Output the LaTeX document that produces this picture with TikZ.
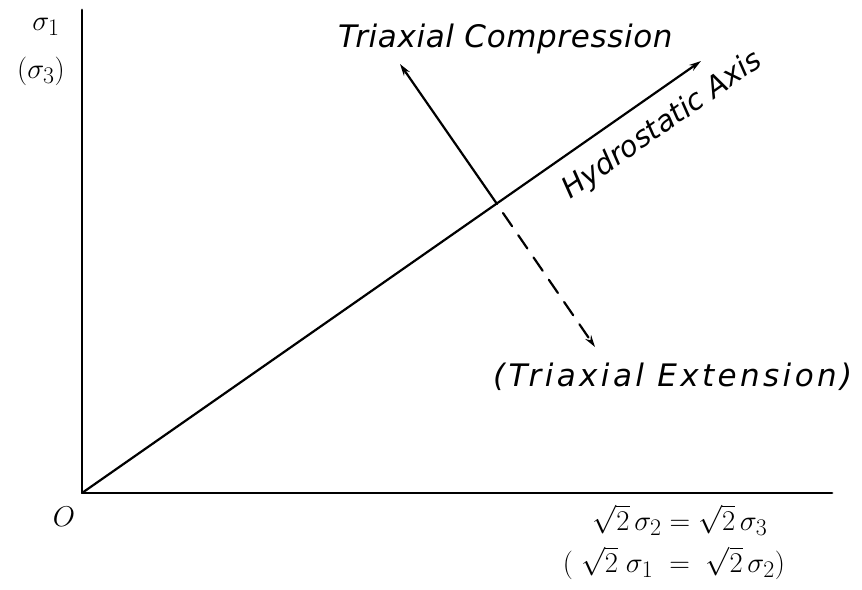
\documentclass[tikz,border=0pt]{standalone}
\usepackage{fontspec}
\setmainfont{DejaVu Sans}
\usetikzlibrary{arrows.meta}
\newcommand{\bigmath}[1]{\scalebox{1.15}{$#1$}}

\begin{document}
\begin{tikzpicture}
% Hydrostatic axis sketch, drawn in pixel units
\def\unitsz{1pt}
\providecommand{\axisLineWidth}{2.8pt}
\providecommand{\rayLineWidth}{2.2pt}
\providecommand{\sketchFont}{\fontsize{31}{36}\selectfont\itshape}
\providecommand{\mathFont}{\fontsize{24.88}{30}\selectfont}
\tikzset{
  sketchtip/.style={-{Stealth[length=12pt,width=7pt]}},
  sketchtext/.style={inner sep=0pt, font=\sketchFont},
  mathtext/.style={inner sep=0pt, font=\mathFont}
}
\begin{scope}[x=\unitsz, y=-\unitsz, line cap=round, line join=round]
  \useasboundingbox (0,0) rectangle (862,589);
  % Axes
  \coordinate (O) at (82,493);
  \coordinate (yTop) at (82,10);
  \coordinate (xEnd) at (832,493);
  \draw[line width=\axisLineWidth] (yTop) -- (O) -- (xEnd);
  % Hydrostatic axis and the two rays from it
  \coordinate (hEnd) at (701,61);
  \coordinate (cross) at (497,204);
  \coordinate (dashStart) at (503,213);
  \coordinate (compTip) at (400,64);
  \coordinate (extTip) at (595,347);
  \draw[line width=\rayLineWidth, sketchtip] (O) -- (hEnd);
  \draw[line width=\rayLineWidth, sketchtip] (cross) -- (compTip);
  \draw[line width=\rayLineWidth, sketchtip, dash pattern=on 16pt off 11pt] (dashStart) -- (extTip);
  % Labels
  \node[sketchtext, anchor=base west] (compLabel) at (338,47) {\addfontfeature{LetterSpace=2}Triaxial Compression};
  \node[sketchtext, anchor=base west] (extLabel) at (493,386) {\addfontfeature{LetterSpace=11}(Triaxial Extension)};
  \node[sketchtext, anchor=base west, rotate=35, font=\fontsize{29}{34}\selectfont\itshape] (hLabel) at (570,200) {Hydrostatic Axis};
  \node[mathtext] (sigOne) at (46,27) {\bigmath{\sigma_1}};
  \node[mathtext] (sigThree) at (41,71) {\bigmath{(\sigma_3)}};
  \node[mathtext] (origin) at (64,517) {\bigmath{O}};
  \node[mathtext] (xLabel) at (680,520) {\bigmath{\sqrt{2}\,\sigma_2 = \sqrt{2}\,\sigma_3}};
  \node[mathtext] (xLabelAlt) at (674,563) {\bigmath{(\;\sqrt{2}\;\sigma_1 \;=\; \sqrt{2}\,\sigma_2)}};
\end{scope}
\end{tikzpicture}
\end{document}
